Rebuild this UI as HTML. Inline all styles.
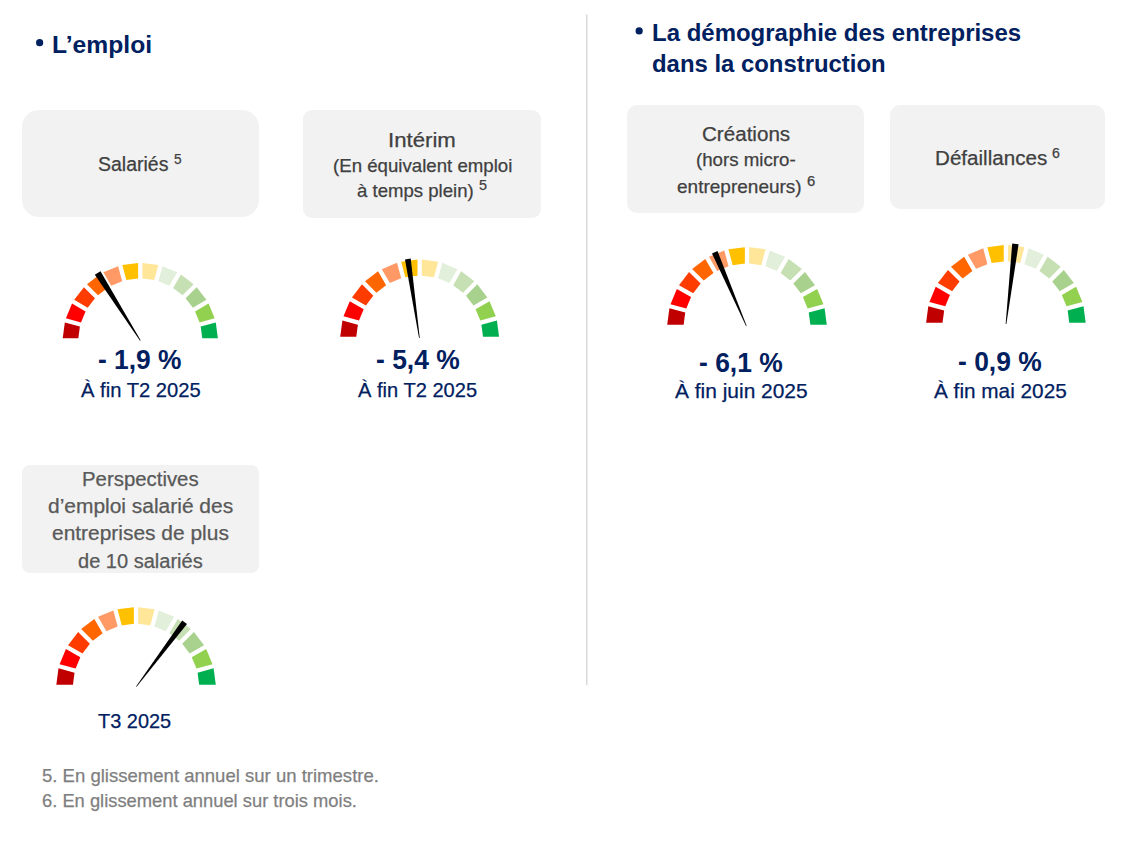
<!DOCTYPE html>
<html><head><meta charset="utf-8"><title>Emploi et démographie des entreprises</title>
<style>
html,body{margin:0;padding:0;background:#fff;width:1135px;height:848px;overflow:hidden;position:relative}
.box{position:absolute;background:#F2F2F2}
.g{position:absolute;left:0;top:0}
.t{position:absolute;white-space:nowrap;font-family:"Liberation Sans",sans-serif;transform-origin:0 0}
.t[style*="font-weight:400"]{-webkit-text-stroke:0.25px currentColor}
</style></head><body>
<div class="box" style="left:22px;top:110px;width:237px;height:107px;border-radius:17px"></div>
<div class="box" style="left:303px;top:110px;width:238px;height:108px;border-radius:9px"></div>
<div class="box" style="left:627px;top:105px;width:237px;height:108px;border-radius:10px"></div>
<div class="box" style="left:890px;top:105px;width:215px;height:104px;border-radius:10px"></div>
<div class="box" style="left:22px;top:465px;width:237px;height:108px;border-radius:8px"></div>
<svg class="g" width="1135" height="848" viewBox="0 0 1135 848">
<rect x="586" y="14.4" width="1.5" height="670.7" fill="#D9D9D9"/>
<circle cx="39.65" cy="42.7" r="3.6" fill="#002060"/>
<circle cx="639.15" cy="30.95" r="3.6" fill="#002060"/>
<path d="M62.73,338.35 L64.82,322.50 L79.89,326.54 L78.34,338.35 Z" fill="#C00000"/>
<path d="M65.93,318.35 L72.05,303.58 L85.56,311.38 L81.01,322.39 Z" fill="#FF0000"/>
<path d="M74.20,299.85 L83.93,287.17 L94.97,298.21 L87.71,307.66 Z" fill="#FF3C00"/>
<path d="M86.97,284.13 L99.65,274.40 L107.46,287.91 L98.01,295.17 Z" fill="#FF6600"/>
<path d="M103.38,272.25 L118.15,266.13 L122.19,281.21 L111.18,285.76 Z" fill="#FF9966"/>
<path d="M122.30,265.02 L138.15,262.93 L138.15,278.54 L126.34,280.09 Z" fill="#FFC000"/>
<path d="M142.45,262.93 L158.30,265.02 L154.26,280.09 L142.45,278.54 Z" fill="#FFE699"/>
<path d="M162.45,266.13 L177.22,272.25 L169.42,285.76 L158.41,281.21 Z" fill="#E2EFDA"/>
<path d="M180.95,274.40 L193.63,284.13 L182.59,295.17 L173.14,287.91 Z" fill="#C6E0B4"/>
<path d="M196.67,287.17 L206.40,299.85 L192.89,307.66 L185.63,298.21 Z" fill="#A9D18E"/>
<path d="M208.55,303.58 L214.67,318.35 L199.59,322.39 L195.04,311.38 Z" fill="#92D050"/>
<path d="M215.78,322.50 L217.87,338.35 L202.26,338.35 L200.71,326.54 Z" fill="#00B050"/>
<polygon points="140.60,340.31 100.48,271.21 94.82,274.79 140.00,340.69" fill="#000"/>
<path d="M340.23,336.85 L342.38,320.52 L357.89,324.68 L356.29,336.85 Z" fill="#C00000"/>
<path d="M343.49,316.37 L349.79,301.15 L363.70,309.18 L359.00,320.52 Z" fill="#FF0000"/>
<path d="M351.94,297.43 L361.97,284.36 L373.32,295.72 L365.85,305.46 Z" fill="#FF3C00"/>
<path d="M365.01,281.32 L378.08,271.29 L386.11,285.20 L376.37,292.67 Z" fill="#FF6600"/>
<path d="M381.80,269.14 L397.02,262.84 L401.17,278.35 L389.83,283.05 Z" fill="#FF9966"/>
<path d="M401.17,261.73 L417.50,259.58 L417.50,275.64 L405.33,277.24 Z" fill="#FFC000"/>
<path d="M421.80,259.58 L438.13,261.73 L433.97,277.24 L421.80,275.64 Z" fill="#FFE699"/>
<path d="M442.28,262.84 L457.50,269.14 L449.47,283.05 L438.13,278.35 Z" fill="#E2EFDA"/>
<path d="M461.22,271.29 L474.29,281.32 L462.93,292.67 L453.19,285.20 Z" fill="#C6E0B4"/>
<path d="M477.33,284.36 L487.36,297.43 L473.45,305.46 L465.98,295.72 Z" fill="#A9D18E"/>
<path d="M489.51,301.15 L495.81,316.37 L480.30,320.52 L475.60,309.18 Z" fill="#92D050"/>
<path d="M496.92,320.52 L499.07,336.85 L483.01,336.85 L481.41,324.68 Z" fill="#00B050"/>
<polygon points="419.75,337.95 410.72,258.58 404.98,259.42 419.05,338.05" fill="#000"/>
<path d="M667.23,324.75 L669.39,308.33 L685.24,312.58 L683.64,324.75 Z" fill="#C00000"/>
<path d="M670.50,304.18 L676.84,288.88 L691.05,297.08 L686.35,308.42 Z" fill="#FF0000"/>
<path d="M678.99,285.15 L689.07,272.01 L700.67,283.62 L693.20,293.36 Z" fill="#FF3C00"/>
<path d="M692.11,268.97 L705.25,258.89 L713.46,273.10 L703.72,280.57 Z" fill="#FF6600"/>
<path d="M708.98,256.74 L724.28,250.40 L728.52,266.25 L717.18,270.95 Z" fill="#FF9966"/>
<path d="M728.43,249.29 L744.85,247.13 L744.85,263.54 L732.68,265.14 Z" fill="#FFC000"/>
<path d="M749.15,247.13 L765.57,249.29 L761.32,265.14 L749.15,263.54 Z" fill="#FFE699"/>
<path d="M769.72,250.40 L785.02,256.74 L776.82,270.95 L765.48,266.25 Z" fill="#E2EFDA"/>
<path d="M788.75,258.89 L801.89,268.97 L790.28,280.57 L780.54,273.10 Z" fill="#C6E0B4"/>
<path d="M804.93,272.01 L815.01,285.15 L800.80,293.36 L793.33,283.62 Z" fill="#A9D18E"/>
<path d="M817.16,288.88 L823.50,304.18 L807.65,308.42 L802.95,297.08 Z" fill="#92D050"/>
<path d="M824.61,308.33 L826.77,324.75 L810.36,324.75 L808.76,312.58 Z" fill="#00B050"/>
<polygon points="746.62,325.66 717.51,251.07 711.99,253.43 745.98,325.94" fill="#000"/>
<path d="M926.13,322.65 L928.29,306.23 L944.14,310.48 L942.54,322.65 Z" fill="#C00000"/>
<path d="M929.40,302.08 L935.74,286.78 L949.95,294.98 L945.25,306.32 Z" fill="#FF0000"/>
<path d="M937.89,283.05 L947.97,269.91 L959.57,281.52 L952.10,291.26 Z" fill="#FF3C00"/>
<path d="M951.01,266.87 L964.15,256.79 L972.36,271.00 L962.62,278.47 Z" fill="#FF6600"/>
<path d="M967.88,254.64 L983.18,248.30 L987.42,264.15 L976.08,268.85 Z" fill="#FF9966"/>
<path d="M987.33,247.19 L1003.75,245.03 L1003.75,261.44 L991.58,263.04 Z" fill="#FFC000"/>
<path d="M1008.05,245.03 L1024.47,247.19 L1020.22,263.04 L1008.05,261.44 Z" fill="#FFE699"/>
<path d="M1028.62,248.30 L1043.92,254.64 L1035.72,268.85 L1024.38,264.15 Z" fill="#E2EFDA"/>
<path d="M1047.65,256.79 L1060.79,266.87 L1049.18,278.47 L1039.44,271.00 Z" fill="#C6E0B4"/>
<path d="M1063.83,269.91 L1073.91,283.05 L1059.70,291.26 L1052.23,281.52 Z" fill="#A9D18E"/>
<path d="M1076.06,286.78 L1082.40,302.08 L1066.55,306.32 L1061.85,294.98 Z" fill="#92D050"/>
<path d="M1083.51,306.23 L1085.67,322.65 L1069.26,322.65 L1067.66,310.48 Z" fill="#00B050"/>
<polygon points="1006.35,324.04 1018.58,244.22 1012.22,243.48 1005.65,323.96" fill="#000"/>
<path d="M56.33,684.75 L58.49,668.34 L74.53,672.64 L72.94,684.75 Z" fill="#C00000"/>
<path d="M59.60,664.19 L65.93,648.90 L80.32,657.21 L75.64,668.49 Z" fill="#FF0000"/>
<path d="M68.08,645.18 L78.16,632.05 L89.90,643.79 L82.47,653.48 Z" fill="#FF3C00"/>
<path d="M81.20,629.01 L94.33,618.93 L102.63,633.32 L92.94,640.75 Z" fill="#FF6600"/>
<path d="M98.05,616.78 L113.34,610.45 L117.64,626.49 L106.36,631.17 Z" fill="#FF9966"/>
<path d="M117.49,609.34 L133.90,607.18 L133.90,623.79 L121.79,625.38 Z" fill="#FFC000"/>
<path d="M138.20,607.18 L154.61,609.34 L150.31,625.38 L138.20,623.79 Z" fill="#FFE699"/>
<path d="M158.76,610.45 L174.05,616.78 L165.74,631.17 L154.46,626.49 Z" fill="#E2EFDA"/>
<path d="M177.77,618.93 L190.90,629.01 L179.16,640.75 L169.47,633.32 Z" fill="#C6E0B4"/>
<path d="M193.94,632.05 L204.02,645.18 L189.63,653.48 L182.20,643.79 Z" fill="#A9D18E"/>
<path d="M206.17,648.90 L212.50,664.19 L196.46,668.49 L191.78,657.21 Z" fill="#92D050"/>
<path d="M213.61,668.34 L215.77,684.75 L199.16,684.75 L197.57,672.64 Z" fill="#00B050"/>
<polygon points="136.58,686.81 187.00,624.00 182.20,620.40 136.02,686.39" fill="#000"/>
</svg>
<div class="t" style="left:52.31px;top:32.70px;font-size:24.8px;line-height:24.8px;font-weight:700;color:#002060;transform:scaleX(0.9948)">L&#8217;emploi</div>
<div class="t" style="left:651.67px;top:20.80px;font-size:24.8px;line-height:24.8px;font-weight:700;color:#002060;transform:scaleX(0.9670)">La d&#233;mographie des entreprises</div>
<div class="t" style="left:651.94px;top:51.70px;font-size:24.8px;line-height:24.8px;font-weight:700;color:#002060;transform:scaleX(0.9633)">dans la construction</div>
<div class="t" style="left:97.83px;top:154.00px;font-size:20.0px;line-height:20.0px;font-weight:400;color:#404040;transform:scaleX(0.9746)">Salari&#233;s</div>
<div class="t" style="left:387.68px;top:129.80px;font-size:20.0px;line-height:20.0px;font-weight:400;color:#404040;transform:scaleX(1.1103)">Int&#233;rim</div>
<div class="t" style="left:332.59px;top:156.70px;font-size:18.5px;line-height:18.5px;font-weight:400;color:#404040;transform:scaleX(1.0080)">(En &#233;quivalent emploi</div>
<div class="t" style="left:357.10px;top:181.50px;font-size:18.5px;line-height:18.5px;font-weight:400;color:#404040;transform:scaleX(1.0044)">&#224; temps plein)</div>
<div class="t" style="left:701.87px;top:123.70px;font-size:20.0px;line-height:20.0px;font-weight:400;color:#404040;transform:scaleX(1.0298)">Cr&#233;ations</div>
<div class="t" style="left:696.09px;top:150.80px;font-size:18.5px;line-height:18.5px;font-weight:400;color:#404040;transform:scaleX(1.0103)">(hors micro-</div>
<div class="t" style="left:677.07px;top:177.90px;font-size:18.5px;line-height:18.5px;font-weight:400;color:#404040;transform:scaleX(1.0277)">entrepreneurs)</div>
<div class="t" style="left:934.74px;top:147.70px;font-size:20.0px;line-height:20.0px;font-weight:400;color:#404040;transform:scaleX(1.0302)">D&#233;faillances</div>
<div class="t" style="left:81.56px;top:468.70px;font-size:20.0px;line-height:20.0px;font-weight:400;color:#595959;transform:scaleX(1.0188)">Perspectives</div>
<div class="t" style="left:47.75px;top:495.60px;font-size:20.0px;line-height:20.0px;font-weight:400;color:#595959;transform:scaleX(1.0474)">d&#8217;emploi salari&#233; des</div>
<div class="t" style="left:51.85px;top:522.80px;font-size:20.0px;line-height:20.0px;font-weight:400;color:#595959;transform:scaleX(1.0467)">entreprises de plus</div>
<div class="t" style="left:77.90px;top:551.00px;font-size:20.0px;line-height:20.0px;font-weight:400;color:#595959;transform:scaleX(1.0016)">de 10 salari&#233;s</div>
<div class="t" style="left:98.43px;top:345.60px;font-size:27.2px;line-height:27.2px;font-weight:700;color:#002060;transform:scaleX(0.9694)">- 1,9 %</div>
<div class="t" style="left:375.53px;top:346.00px;font-size:27.2px;line-height:27.2px;font-weight:700;color:#002060;transform:scaleX(0.9729)">- 5,4 %</div>
<div class="t" style="left:699.43px;top:348.70px;font-size:27.2px;line-height:27.2px;font-weight:700;color:#002060;transform:scaleX(0.9718)">- 6,1 %</div>
<div class="t" style="left:957.73px;top:348.10px;font-size:27.2px;line-height:27.2px;font-weight:700;color:#002060;transform:scaleX(0.9718)">- 0,9 %</div>
<div class="t" style="left:80.50px;top:379.50px;font-size:20.6px;line-height:20.6px;font-weight:400;color:#002060;transform:scaleX(0.9803)">&#192; fin T2 2025</div>
<div class="t" style="left:358.00px;top:379.70px;font-size:20.6px;line-height:20.6px;font-weight:400;color:#002060;transform:scaleX(0.9754)">&#192; fin T2 2025</div>
<div class="t" style="left:675.30px;top:381.10px;font-size:20.6px;line-height:20.6px;font-weight:400;color:#002060;transform:scaleX(1.0162)">&#192; fin juin 2025</div>
<div class="t" style="left:933.60px;top:380.50px;font-size:20.6px;line-height:20.6px;font-weight:400;color:#002060;transform:scaleX(1.0084)">&#192; fin mai 2025</div>
<div class="t" style="left:98.30px;top:710.80px;font-size:20.6px;line-height:20.6px;font-weight:400;color:#002060;transform:scaleX(0.9680)">T3 2025</div>
<div class="t" style="left:41.98px;top:766.70px;font-size:18.2px;line-height:18.2px;font-weight:400;color:#7F7F7F;transform:scaleX(1.0192)">5. En glissement annuel sur un trimestre.</div>
<div class="t" style="left:41.99px;top:791.80px;font-size:18.2px;line-height:18.2px;font-weight:400;color:#7F7F7F;transform:scaleX(1.0081)">6. En glissement annuel sur trois mois.</div>
<div class="t" style="left:174.12px;top:152.90px;font-size:13.9px;line-height:13.9px;font-weight:400;color:#404040;transform:scaleX(0.9833)">5</div>
<div class="t" style="left:479.07px;top:179.10px;font-size:13.9px;line-height:13.9px;font-weight:400;color:#404040;transform:scaleX(1.0333)">5</div>
<div class="t" style="left:807.03px;top:174.90px;font-size:13.9px;line-height:13.9px;font-weight:400;color:#404040;transform:scaleX(1.0667)">6</div>
<div class="t" style="left:1052.38px;top:146.90px;font-size:13.9px;line-height:13.9px;font-weight:400;color:#404040;transform:scaleX(1.0167)">6</div>
</body></html>
